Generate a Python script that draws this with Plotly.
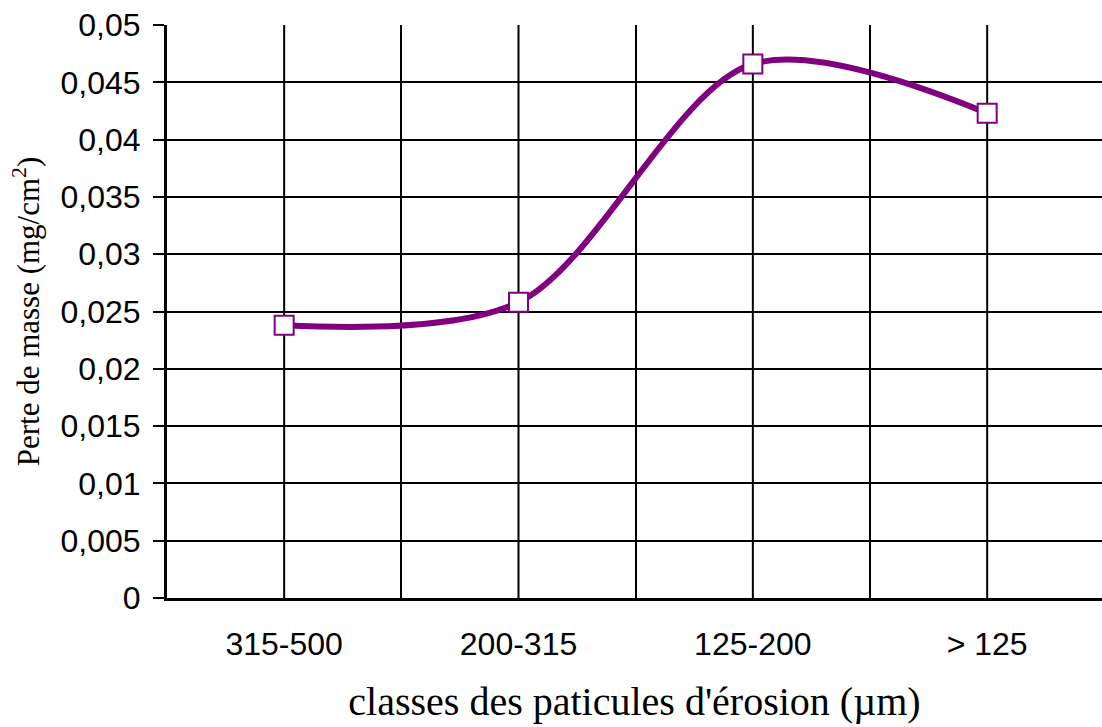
import plotly.graph_objects as go

# Particle size classes and measured mass loss
classes = ["315-500", "200-315", "125-200", "> 125"]
perte_masse = [0.0238, 0.0258, 0.0466, 0.0423]

PURPLE = "#800080"

fig = go.Figure()
fig.add_trace(go.Scatter(
    x=classes,
    y=perte_masse,
    mode="lines+markers",
    line=dict(color=PURPLE, width=6, shape="spline", smoothing=0.9),
    marker=dict(symbol="square", size=19, color="white",
                line=dict(color=PURPLE, width=2)),
    showlegend=False,
))

# vertical grid lines through each class centre
for c in classes:
    fig.add_vline(x=c, line=dict(color="black", width=2), layer="below")

fig.update_layout(
    width=1102, height=727,
    margin=dict(l=167, r=0, t=25, b=129),
    paper_bgcolor="white", plot_bgcolor="white",
    separators=",.",
    font=dict(family="Liberation Sans, Arial, sans-serif", size=32, color="black"),
    xaxis=dict(
        type="category",
        range=[-0.5, 3.49],
        tickson="boundaries",
        showgrid=True, gridcolor="black", gridwidth=2,
        showline=True, linecolor="black", linewidth=3,
        ticks="", ticklabelstandoff=16,
        tickfont=dict(size=32),
        title=dict(text="classes des paticules d'érosion (µm)",
                   font=dict(family="Liberation Serif, Times New Roman, serif", size=40),
                   standoff=26),
    ),
    yaxis=dict(
        range=[0, 0.05],
        dtick=0.005, tick0=0,
        showgrid=True, gridcolor="black", gridwidth=2,
        zeroline=False,
        showline=True, linecolor="black", linewidth=3,
        ticks="outside", ticklen=11, tickwidth=2, tickcolor="black",
        ticklabelstandoff=6,
        tickfont=dict(size=32),
        title=dict(text="Perte de masse (mg/cm<sup>2</sup>)",
                   font=dict(family="Liberation Serif, Times New Roman, serif", size=31),
                   standoff=12),
    ),
)

fig.write_html("out.html")
